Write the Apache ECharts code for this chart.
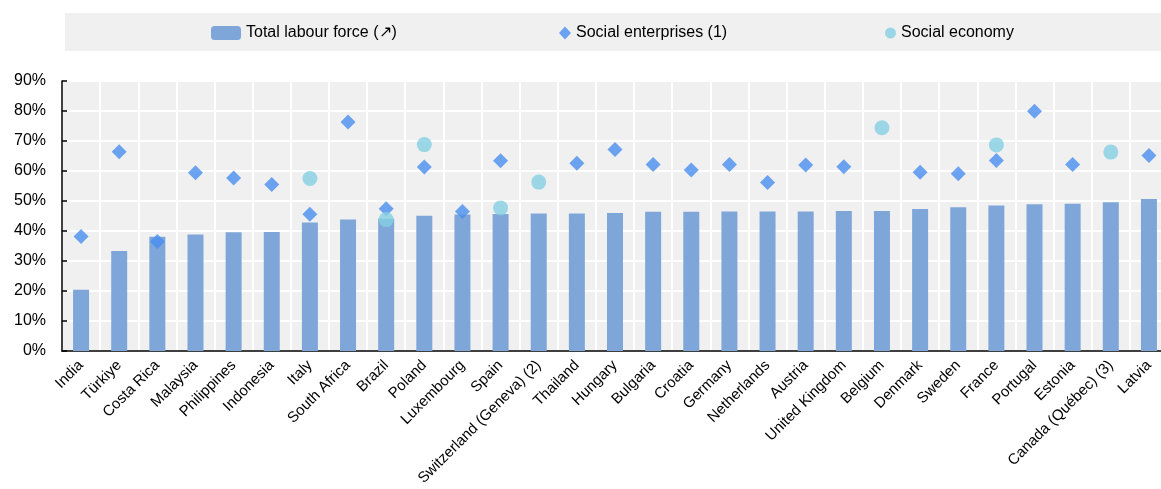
<!DOCTYPE html>
<html>
<head>
<meta charset="utf-8">
<script src="https://cdn.jsdelivr.net/npm/echarts@6/dist/echarts.min.js"></script>
<style>html,body{margin:0;padding:0;background:#fff}#c{width:1161px;height:489px}</style>
</head>
<body>
<div id="c"></div>
<script>
var categories = ['India','Türkiye','Costa Rica','Malaysia','Philippines','Indonesia','Italy','South Africa','Brazil','Poland','Luxembourg','Spain','Switzerland (Geneva) (2)','Thailand','Hungary','Bulgaria','Croatia','Germany','Netherlands','Austria','United Kingdom','Belgium','Denmark','Sweden','France','Portugal','Estonia','Canada (Québec) (3)','Latvia'];
var labourForce = [20.4,33.3,38.1,38.8,39.6,39.7,42.8,43.8,44.1,45.1,45.5,45.7,45.8,45.8,46.0,46.4,46.4,46.5,46.5,46.5,46.7,46.7,47.3,47.9,48.5,48.9,49.1,49.6,50.7];
var socialEnterprises = [38.2,66.4,36.5,59.4,57.7,55.5,45.6,76.3,47.4,61.3,46.5,63.4,null,62.6,67.2,62.2,60.3,62.2,56.2,62.0,61.4,null,59.6,59.1,63.5,79.9,62.2,null,65.2];
var socialEconomy = [null,null,null,null,null,null,57.5,null,43.8,68.8,null,47.7,56.3,null,null,null,null,null,null,null,null,74.4,null,null,68.7,null,null,66.3,null];
var yTicks = [0,10,20,30,40,50,60,70,80,90];

var FONT = '"Liberation Sans", Arial, sans-serif';
var chart = echarts.init(document.getElementById('c'), null, {renderer:'canvas'});
var names = ['Total labour force (\u2197)', 'Social enterprises (1)', 'Social economy'];
var legendText = {fontFamily: FONT, fontSize: 16, color: '#000'};
chart.setOption({
  animation: false,
  textStyle: {fontFamily: FONT},
  graphic: [{type:'rect', left: 65, top: 13, shape:{width:1096, height:38}, style:{fill:'#f0f0f0'}, z:-1}],
  legend: [
    {data:[names[0]], left: 211, top: 25, padding: 0, itemWidth: 30, itemHeight: 14, textStyle: legendText, selectedMode:false},
    {data:[names[1]], left: 559, top: 25, padding: 0, itemWidth: 12, itemHeight: 13, textStyle: legendText, selectedMode:false},
    {data:[names[2]], left: 885, top: 25, padding: 0, itemWidth: 11, itemHeight: 11, textStyle: legendText, selectedMode:false}
  ],
  grid: {left: 62, top: 81, bottom: 138, right: -7, show: true, backgroundColor: '#f0f0f0', borderWidth: 0, containLabel: false, outerBoundsMode: 'none'},
  xAxis: {
    type: 'category', data: categories, boundaryGap: true,
    axisLine: {lineStyle: {color: '#000', width: 1.5}},
    axisTick: {inside: true, length: 5, interval: 0, lineStyle: {color:'#000', width: 1.5}},
    axisLabel: {interval: 0, rotate: 45, fontFamily: FONT, fontSize: 15, color: '#000', margin: 12},
    splitLine: {show: true, interval: 0, lineStyle: {color: '#fff', width: 2}}
  },
  yAxis: {
    type: 'value', min: 0, max: 90, interval: 10,
    axisLine: {show: true, lineStyle: {color: '#000', width: 1.5}},
    axisTick: {show: true, inside: true, length: 5, lineStyle: {color:'#000', width: 1.5}},
    axisLabel: {formatter: function(v){return v + '%';}, fontFamily: FONT, fontSize: 16, color: '#000', margin: 16},
    splitLine: {show: true, lineStyle: {color: '#fff', width: 2}}
  },
  series: [
    {name: names[0], type: 'bar', data: labourForce, barWidth: 16, itemStyle: {color: '#7fa6d8'}},
    {name: names[1], type: 'scatter', data: socialEnterprises, symbol: 'diamond', symbolSize: 15, itemStyle: {color: '#4a8ff0'}, z: 3},
    {name: names[2], type: 'scatter', data: socialEconomy, symbol: 'circle', symbolSize: 15, itemStyle: {color: '#86d0e3'}, z: 4}
  ]
});
</script>
</body>
</html>
